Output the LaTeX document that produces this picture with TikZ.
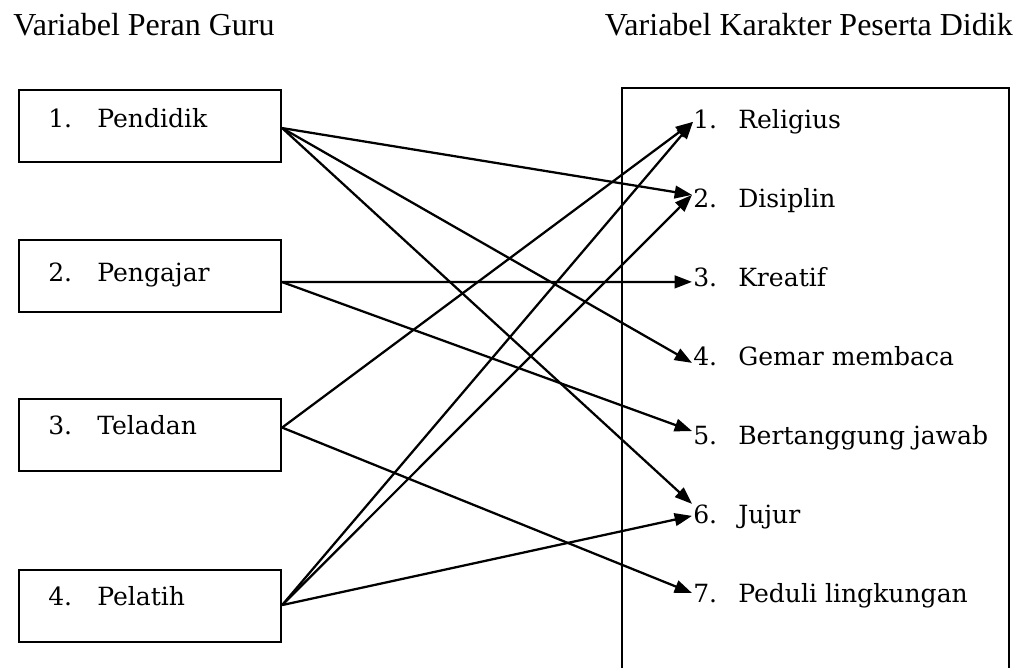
\documentclass[tikz,border=0pt]{standalone}
\usepackage{fontspec}
\setmainfont{DejaVu Serif}
\newfontfamily\headfont{Liberation Serif}
\usetikzlibrary{arrows.meta,calc}
\begin{document}
\begin{tikzpicture}[x=0.75pt,y=-0.75pt,
  box/.style={draw,line width=1.6pt,minimum width=196.5pt,minimum height=54pt,inner sep=0pt,anchor=north west},
  head/.style={inner sep=0pt,font=\headfont\fontsize{24pt}{28pt}\selectfont},
  itm/.style={inner sep=0pt,anchor=base west,font=\fontsize{18.8pt}{22pt}\selectfont},
  arr/.style={line width=1.7pt,-{Triangle[length=13pt,width=9.5pt]}}]
\useasboundingbox (0,0) rectangle (1018,668);
% headers
\node[head,anchor=base west] (h1) at (13,35) {Variabel Peran Guru};
\node[head,anchor=base east] (h2) at (1013,35) {Variabel Karakter Peserta Didik};
% left boxes
\node[box] (b1) at (18,89) {};
\node[box] (b2) at (18,239) {};
\node[box] (b3) at (18,398) {};
\node[box] (b4) at (18,569) {};
\node[itm] (ln1) at (48,127) {1.};
\node[itm] (lw1) at (97,127) {Pendidik};
\node[itm] (ln2) at (48,281) {2.};
\node[itm] (lw2) at (97,281) {Pengajar};
\node[itm] (ln3) at (48,434) {3.};
\node[itm] (lw3) at (97,434) {Teladan};
\node[itm] (ln4) at (48,605) {4.};
\node[itm] (lw4) at (97,605) {Pelatih};
% right box (continues below the page)
\draw[line width=1.6pt] (622,668) -- (622,88) -- (1009,88) -- (1009,668);
\node[itm] (rn1) at (693,128) {1.};
\node[itm] (rw1) at (738,128) {Religius};
\node[itm] (rn2) at (693,207) {2.};
\node[itm] (rw2) at (738,207) {Disiplin};
\node[itm] (rn3) at (693,286) {3.};
\node[itm] (rw3) at (738,286) {Kreatif};
\node[itm] (rn4) at (693,365) {4.};
\node[itm] (rw4) at (738,365) {Gemar membaca};
\node[itm] (rn5) at (693,444) {5.};
\node[itm] (rw5) at (738,444) {Bertanggung jawab};
\node[itm] (rn6) at (693,523) {6.};
\node[itm] (rw6) at (738,523) {Jujur};
\node[itm] (rn7) at (693,602) {7.};
\node[itm] (rw7) at (738,602) {Peduli lingkungan};
% connectors
\draw[arr] ($(b1.east)+(0,2)$) -- ($(rn2.west)+(-1,-3)$);
\draw[arr] ($(b1.east)+(0,2)$) -- ($(rn4.west)+(-1,7)$);
\draw[arr] ($(b1.east)+(0,2)$) -- ($(rn6.west)+(-1,-10)$);
\draw[arr] ($(b2.east)+(0,6)$) -- ($(rn3.west)+(-1,5)$);
\draw[arr] ($(b2.east)+(0,6)$) -- ($(rn5.west)+(-1,-4)$);
\draw[arr] ($(b3.east)+(0,-7.5)$) -- ($(rn1.west)+(0,3)$);
\draw[arr] ($(b3.east)+(0,-7.5)$) -- ($(rn7.west)+(-1,0)$);
\draw[arr] ($(b4.east)+(0,-1)$) -- ($(rn1.west)+(0,3)$);
\draw[arr] ($(b4.east)+(0,-1)$) -- ($(rn2.west)+(-1,-3)$);
\draw[arr] ($(b4.east)+(0,-1)$) -- ($(rn6.west)+(-1,2)$);
\end{tikzpicture}
\end{document}
